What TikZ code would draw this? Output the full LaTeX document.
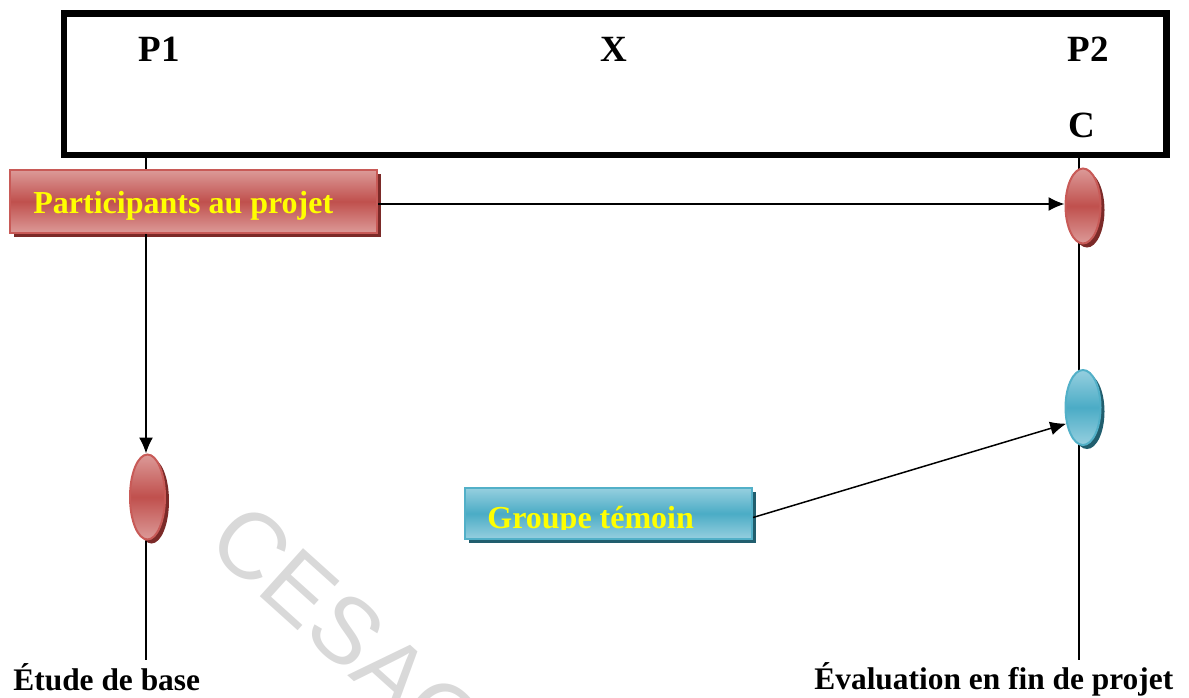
\documentclass[tikz,border=0pt]{standalone}
\usepackage{fontspec}
\setmainfont{Liberation Serif}
\newfontfamily\wmfont{Liberation Sans}
\usetikzlibrary{shapes.geometric,shadows,arrows.meta}
\definecolor{redmid}{HTML}{C0504D}
\definecolor{redlight}{HTML}{DC9A98}
\definecolor{redborder}{HTML}{C85A57}
\definecolor{redshadow}{HTML}{7B2A28}
\definecolor{bluemid}{HTML}{4BACC6}
\definecolor{bluelight}{HTML}{96CFDF}
\definecolor{blueborder}{HTML}{52B0C8}
\definecolor{blueshadow}{HTML}{215E6E}
\definecolor{wmgray}{HTML}{D9D9D9}
\definecolor{labelyellow}{HTML}{FFFF00}

\begin{document}
\begin{tikzpicture}[x=0.5pt,y=-0.5pt,
  redfill/.style={draw=redborder, line width=1pt,
    top color=redlight, bottom color=redlight, middle color=redmid,
    drop shadow={shadow xshift=2pt,shadow yshift=-2pt,fill=redshadow,opacity=1}},
  bluefill/.style={draw=blueborder, line width=1pt,
    top color=bluelight, bottom color=bluelight, middle color=bluemid,
    drop shadow={shadow xshift=2pt,shadow yshift=-2pt,fill=blueshadow,opacity=1}},
  stage/.style={ellipse, inner sep=0pt, minimum width=17.5pt, minimum height=37.5pt},
  bar/.style={rectangle, inner sep=0pt},
  title/.style={anchor=base west, inner sep=0pt, font=\bfseries\fontsize{18.5}{20}\selectfont},
  boxlabel/.style={anchor=base west, inner sep=0pt, text=labelyellow, font=\bfseries\fontsize{16}{18}\selectfont},
  footlabel/.style={anchor=base west, inner sep=0pt, font=\bfseries\fontsize{15.7}{18}\selectfont},
  link/.style={line width=0.75pt},
  arrowlink/.style={link, -{Latex[length=8pt,width=7pt]}}]

\useasboundingbox (0,0) rectangle (1189,697);
\clip (0,0) rectangle (1189,697);

% watermark
\node[anchor=base west, inner sep=0pt, rotate=-42, text=wmgray,
      font=\wmfont\fontsize{47}{50}\selectfont] (wm) at (204,546) {CESAG};

% header frame
\node[draw, line width=3.25pt, bar, minimum width=551.25pt, minimum height=70.75pt]
  (frame) at (615.25,84.25) {};
\node[title] (p1) at (138,61) {P1};
\node[title, anchor=base] (xx) at (614,61) {X};
\node[title] (p2) at (1067,61) {P2};
\node[title] (cc) at (1068,137) {C};

% time lines
\coordinate (leftTop) at (146,155);
\coordinate (leftEnd) at (146,660);
\coordinate (rightTop) at (1079,155);
\coordinate (rightEnd) at (1079,660);
\draw[link] (rightTop) -- (rightEnd);

% boxes and stages
\node[bar, redfill, minimum width=183.5pt, minimum height=31.5pt] (part) at (193.5,201.5) {};
\node[boxlabel] (partlbl) at (33,213) {Participants au projet};

\node[bar, bluefill, minimum width=143.5pt, minimum height=25.5pt] (grp) at (608.5,513.5) {};
\begin{scope}
  \clip (465,488) rectangle (752,529);
  \node[boxlabel] (grplbl) at (487,528) {Groupe témoin};
\end{scope}

\node[stage, redfill] (ellR) at (1083,206) {};
\node[stage, bluefill] (ellB) at (1083,407.5) {};
\node[stage, redfill, minimum height=42.5pt] (ellL) at (147.5,497) {};

% connectors
\draw[link] (leftTop) -- (leftTop |- part.north);
\draw[arrowlink] (leftTop |- part.south) -- (leftTop |- ellL.north);
\draw[link] (leftTop |- ellL.south) -- (leftEnd);
\draw[arrowlink] (part.east |- 0,204) -- (ellR.west |- 0,204);
\draw[arrowlink] ([yshift=-2pt]grp.east) -- (ellB.224);

% footer labels
\node[footlabel] (base) at (13,690) {Étude de base};
\node[footlabel] (fin) at (814,689) {Évaluation en fin de projet};
\end{tikzpicture}
\end{document}
